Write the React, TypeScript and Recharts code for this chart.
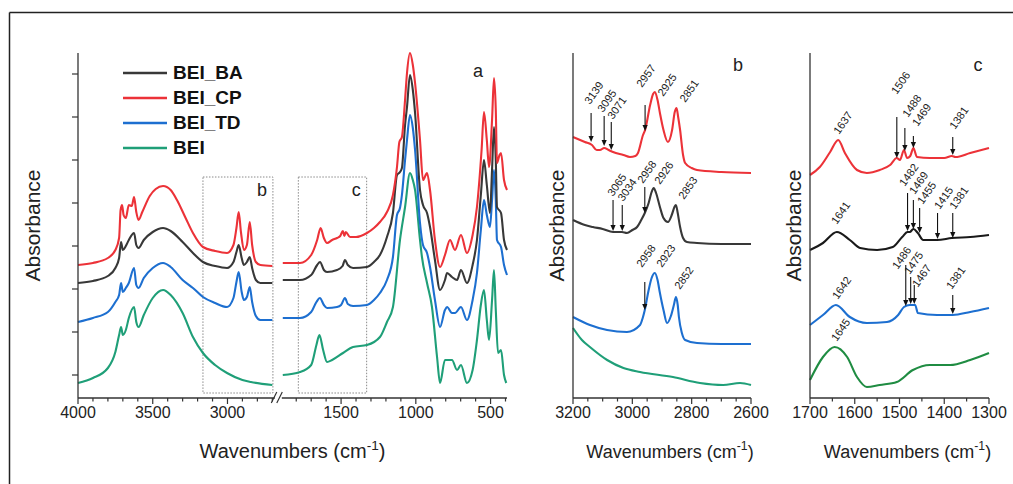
import React from 'react';
import { LineChart, Line, XAxis, YAxis, ReferenceLine, ReferenceDot, ReferenceArea, Legend } from 'recharts';

type Pt = [number, number];
type Note = { t: string; w?: number; top?: number; tip?: number; lw: number; lv: number };

const FONT = '"Liberation Sans", Arial, Helvetica, sans-serif';

const LEGEND_ORDER = ['BEI_BA', 'BEI_CP', 'BEI_TD', 'BEI'];
const COLOR: Record<string, string> = {
  BEI_BA: '#383838',
  BEI_CP: '#ec3238',
  BEI_TD: '#1d6fd0',
  BEI: '#1f9f78',
};
const GREEN_C = '#1f8c42';

// ---------- panel a : 4000-2700 cm-1 ----------
const A_CP_HI: Pt[] = [
  [4000, 1.33], [3900, 1.35], [3800, 1.4], [3750, 1.48], [3725, 1.6], [3715, 1.88], [3705, 1.93], [3695, 1.83],
  [3680, 1.8], [3660, 1.93], [3640, 1.92], [3625, 2.01], [3610, 1.86], [3595, 1.78], [3570, 1.86], [3520, 2.02],
  [3480, 2.09], [3431, 2.12], [3380, 2.08], [3338, 1.98], [3280, 1.8], [3231, 1.65], [3164, 1.51], [3083, 1.47],
  [3003, 1.45], [2960, 1.53], [2940, 1.7], [2925, 1.86], [2910, 1.66], [2890, 1.48], [2870, 1.53], [2851, 1.76],
  [2835, 1.53], [2810, 1.36], [2780, 1.33], [2700, 1.32],
];
const A_BA_HI: Pt[] = [
  [4000, 1.15], [3900, 1.17], [3800, 1.22], [3750, 1.3], [3725, 1.4], [3712, 1.56], [3700, 1.48], [3680, 1.52],
  [3660, 1.58], [3625, 1.65], [3610, 1.53], [3595, 1.5], [3560, 1.58], [3500, 1.66], [3431, 1.7], [3380, 1.67],
  [3300, 1.56], [3231, 1.45], [3164, 1.36], [3083, 1.32], [3003, 1.3], [2960, 1.36], [2940, 1.46], [2925, 1.53],
  [2905, 1.4], [2890, 1.33], [2870, 1.36], [2851, 1.41], [2835, 1.3], [2810, 1.18], [2780, 1.15], [2700, 1.15],
];
const A_TD_HI: Pt[] = [
  [4000, 0.76], [3900, 0.8], [3800, 0.86], [3750, 0.96], [3725, 1.03], [3712, 1.15], [3700, 1.06], [3680, 1.1],
  [3660, 1.15], [3625, 1.3], [3610, 1.13], [3595, 1.1], [3560, 1.2], [3500, 1.3], [3431, 1.35], [3380, 1.31],
  [3300, 1.18], [3231, 1.1], [3164, 1.01], [3083, 0.95], [3003, 0.91], [2960, 1.0], [2940, 1.16], [2925, 1.26],
  [2905, 1.06], [2890, 0.98], [2870, 1.01], [2851, 1.11], [2835, 0.96], [2810, 0.82], [2780, 0.78], [2700, 0.78],
];
const A_BEI_HI: Pt[] = [
  [4000, 0.15], [3900, 0.2], [3800, 0.3], [3750, 0.46], [3725, 0.63], [3712, 0.71], [3700, 0.63], [3680, 0.68],
  [3660, 0.8], [3625, 0.91], [3610, 0.76], [3595, 0.71], [3560, 0.83], [3500, 1.0], [3431, 1.08], [3380, 1.03],
  [3300, 0.85], [3231, 0.61], [3164, 0.45], [3083, 0.33], [3003, 0.25], [2900, 0.18], [2843, 0.16], [2700, 0.13],
];

// ---------- panel a : 1890-390 cm-1 ----------
const A_CP_LO: Pt[] = [
  [1890, 1.35], [1775, 1.35], [1700, 1.43], [1660, 1.58], [1637, 1.7], [1615, 1.6], [1594, 1.55], [1560, 1.58],
  [1527, 1.6], [1506, 1.62], [1488, 1.67], [1478, 1.62], [1469, 1.66], [1440, 1.61], [1400, 1.61], [1327, 1.65],
  [1280, 1.7], [1240, 1.76], [1193, 1.86], [1153, 2.03], [1126, 2.31], [1110, 2.56], [1093, 2.61], [1072, 2.98],
  [1059, 3.25], [1039, 3.45], [1020, 3.33], [1005, 3.15], [972, 2.58], [952, 2.18], [925, 2.25], [905, 2.08],
  [872, 1.58], [838, 1.31], [805, 1.43], [771, 1.58], [738, 1.48], [698, 1.63], [658, 1.45], [620, 1.63],
  [591, 1.91], [560, 2.48], [544, 2.86], [525, 2.58], [510, 2.31], [490, 2.78], [477, 3.2], [465, 2.88],
  [457, 2.35], [440, 2.43], [430, 2.45], [410, 2.18], [390, 2.08],
];
const A_BA_LO: Pt[] = [
  [1890, 1.18], [1775, 1.18], [1700, 1.23], [1660, 1.33], [1641, 1.36], [1615, 1.28], [1594, 1.26], [1527, 1.28],
  [1490, 1.32], [1474, 1.38], [1455, 1.33], [1420, 1.3], [1327, 1.31], [1280, 1.36], [1240, 1.43], [1193, 1.61],
  [1153, 1.85], [1126, 2.23], [1106, 2.26], [1093, 2.3], [1072, 2.73], [1059, 2.91], [1039, 3.23], [1020, 3.08],
  [1005, 2.85], [972, 2.08], [952, 1.93], [925, 1.85], [905, 1.71], [872, 1.38], [838, 1.08], [805, 1.18],
  [791, 1.25], [758, 1.21], [724, 1.18], [698, 1.28], [658, 1.15], [620, 1.33], [591, 1.58], [565, 2.03],
  [544, 2.38], [525, 2.13], [504, 1.85], [490, 2.28], [477, 2.71], [465, 2.38], [457, 1.91], [430, 1.85],
  [410, 1.58], [390, 1.48],
];
const A_TD_LO: Pt[] = [
  [1890, 0.8], [1775, 0.8], [1700, 0.86], [1665, 0.96], [1642, 1.0], [1615, 0.93], [1594, 0.9], [1527, 0.91],
  [1500, 0.93], [1474, 1.0], [1455, 0.94], [1420, 0.92], [1327, 0.93], [1280, 0.98], [1240, 1.05], [1193, 1.18],
  [1153, 1.41], [1126, 1.83], [1106, 1.9], [1093, 2.03], [1072, 2.38], [1059, 2.58], [1039, 2.83], [1020, 2.7],
  [1005, 2.48], [972, 1.75], [952, 1.53], [925, 1.45], [905, 1.31], [872, 0.98], [838, 0.71], [805, 0.88],
  [791, 0.91], [758, 0.85], [738, 0.85], [698, 0.91], [658, 0.78], [620, 0.98], [591, 1.25], [565, 1.68],
  [544, 1.98], [525, 1.83], [504, 1.71], [490, 1.98], [477, 2.28], [465, 1.98], [457, 1.58], [430, 1.51],
  [410, 1.33], [390, 1.23],
];
const A_BEI_LO: Pt[] = [
  [1890, 0.23], [1775, 0.26], [1700, 0.33], [1665, 0.53], [1645, 0.63], [1620, 0.48], [1594, 0.36], [1560, 0.38],
  [1487, 0.45], [1420, 0.51], [1327, 0.53], [1240, 0.61], [1193, 0.76], [1153, 0.91], [1106, 1.58], [1072, 1.91],
  [1039, 2.25], [1020, 2.18], [1005, 2.08], [972, 1.58], [959, 1.41], [925, 1.15], [892, 0.91], [858, 0.41],
  [838, 0.15], [805, 0.38], [758, 0.38], [724, 0.28], [698, 0.33], [658, 0.15], [620, 0.28], [591, 0.58],
  [565, 0.93], [544, 1.08], [525, 0.78], [510, 0.58], [490, 0.98], [477, 1.28], [465, 0.88], [450, 0.45],
  [430, 0.48], [410, 0.23], [395, 0.15],
];

// ---------- panel b : 3200-2600 cm-1 ----------
const B_CP: Pt[] = [
  [3200, 2.61], [3160, 2.56], [3136, 2.53], [3120, 2.48], [3109, 2.48], [3095, 2.5], [3080, 2.48], [3065, 2.46],
  [3030, 2.43], [3008, 2.41], [2990, 2.42], [2981, 2.45], [2964, 2.63], [2957, 2.68], [2940, 2.93], [2930, 3.04],
  [2924, 3.06], [2915, 2.98], [2907, 2.85], [2895, 2.68], [2880, 2.56], [2866, 2.68], [2857, 2.86], [2851, 2.9],
  [2845, 2.8], [2839, 2.68], [2829, 2.43], [2822, 2.35], [2800, 2.3], [2782, 2.28], [2700, 2.26], [2600, 2.25],
];
const B_BA: Pt[] = [
  [3200, 1.78], [3160, 1.73], [3133, 1.71], [3100, 1.69], [3065, 1.66], [3035, 1.66], [3018, 1.65], [3000, 1.68],
  [2984, 1.71], [2970, 1.78], [2958, 1.85], [2945, 1.95], [2935, 2.06], [2928, 2.1], [2920, 2.05], [2907, 1.91],
  [2895, 1.8], [2880, 1.76], [2866, 1.84], [2858, 1.91], [2853, 1.93], [2847, 1.85], [2839, 1.71], [2829, 1.6],
  [2816, 1.56], [2782, 1.55], [2700, 1.54], [2600, 1.54],
];
const B_TD: Pt[] = [
  [3200, 0.81], [3143, 0.73], [3085, 0.68], [3018, 0.66], [2974, 0.73], [2965, 0.8], [2958, 0.88], [2945, 1.08],
  [2935, 1.2], [2924, 1.25], [2915, 1.18], [2907, 1.05], [2895, 0.88], [2883, 0.75], [2870, 0.82], [2860, 0.93],
  [2853, 1.01], [2847, 0.93], [2843, 0.81], [2833, 0.65], [2822, 0.58], [2782, 0.55], [2700, 0.54], [2600, 0.54],
];
const B_BEI: Pt[] = [
  [3200, 0.7], [3170, 0.58], [3143, 0.51], [3085, 0.38], [3030, 0.3], [2974, 0.26], [2863, 0.21], [2772, 0.15],
  [2694, 0.13], [2637, 0.15], [2600, 0.13],
];

// ---------- panel c : 1700-1300 cm-1 ----------
const C_CP: Pt[] = [
  [1700, 2.23], [1678, 2.31], [1655, 2.46], [1637, 2.58], [1622, 2.45], [1595, 2.28], [1573, 2.25], [1544, 2.28],
  [1521, 2.33], [1506, 2.4], [1499, 2.38], [1490, 2.48], [1483, 2.4], [1476, 2.42], [1469, 2.5], [1461, 2.41],
  [1432, 2.4], [1400, 2.4], [1383, 2.42], [1375, 2.41], [1342, 2.45], [1300, 2.5],
];
const C_BA: Pt[] = [
  [1700, 1.48], [1671, 1.55], [1640, 1.66], [1611, 1.58], [1588, 1.5], [1550, 1.48], [1515, 1.51], [1494, 1.61],
  [1482, 1.66], [1477, 1.66], [1469, 1.69], [1459, 1.65], [1447, 1.58], [1416, 1.58], [1383, 1.6], [1342, 1.61],
  [1300, 1.63],
];
const C_TD: Pt[] = [
  [1700, 0.73], [1671, 0.83], [1642, 0.93], [1611, 0.81], [1573, 0.75], [1528, 0.76], [1503, 0.83], [1490, 0.91],
  [1477, 0.93], [1465, 0.93], [1459, 0.85], [1416, 0.83], [1381, 0.83], [1342, 0.86], [1300, 0.9],
];
const C_BEI: Pt[] = [
  [1700, 0.18], [1671, 0.41], [1645, 0.51], [1617, 0.41], [1595, 0.21], [1573, 0.11], [1544, 0.13], [1506, 0.16],
  [1470, 0.28], [1432, 0.33], [1387, 0.33], [1342, 0.38], [1300, 0.45],
];

// ---------- peak annotations ----------
const B_NOTES: Note[] = [
  { t: '3139', w: 3139, top: 2.85, tip: 2.56, lw: 3143, lv: 2.93 },
  { t: '3095', w: 3095, top: 2.82, tip: 2.52, lw: 3099, lv: 2.85 },
  { t: '3071', w: 3071, top: 2.76, tip: 2.48, lw: 3065, lv: 2.78 },
  { t: '2957', w: 2957, top: 2.93, tip: 2.67, lw: 2967, lv: 3.1 },
  { t: '2925', lw: 2896, lv: 3.01 },
  { t: '2851', lw: 2822, lv: 2.95 },
  { t: '3065', w: 3065, top: 1.98, tip: 1.67, lw: 3065, lv: 2.01 },
  { t: '3034', w: 3034, top: 1.93, tip: 1.67, lw: 3031, lv: 1.96 },
  { t: '2958', w: 2958, top: 2.11, tip: 1.85, lw: 2964, lv: 2.14 },
  { t: '2926', lw: 2907, lv: 2.13 },
  { t: '2853', lw: 2826, lv: 1.98 },
  { t: '2958', w: 2958, top: 1.16, tip: 0.88, lw: 2967, lv: 1.3 },
  { t: '2923', lw: 2900, lv: 1.3 },
  { t: '2852', lw: 2839, lv: 1.08 },
];
const C_NOTES: Note[] = [
  { t: '1637', lw: 1635, lv: 2.63 },
  { t: '1506', w: 1506, top: 2.81, tip: 2.4, lw: 1506, lv: 3.03 },
  { t: '1488', w: 1488, top: 2.7, tip: 2.47, lw: 1481, lv: 2.8 },
  { t: '1469', w: 1469, top: 2.62, tip: 2.5, lw: 1459, lv: 2.71 },
  { t: '1381', w: 1381, top: 2.61, tip: 2.43, lw: 1376, lv: 2.68 },
  { t: '1641', lw: 1640, lv: 1.73 },
  { t: '1482', w: 1482, top: 2.05, tip: 1.67, lw: 1488, lv: 2.11 },
  { t: '1469', w: 1469, top: 1.98, tip: 1.69, lw: 1466, lv: 2.03 },
  { t: '1455', w: 1455, top: 1.9, tip: 1.65, lw: 1448, lv: 1.93 },
  { t: '1415', w: 1415, top: 1.85, tip: 1.59, lw: 1410, lv: 1.88 },
  { t: '1381', w: 1381, top: 1.85, tip: 1.6, lw: 1376, lv: 1.88 },
  { t: '1642', lw: 1638, lv: 0.98 },
  { t: '1486', w: 1486, top: 1.33, tip: 0.92, lw: 1504, lv: 1.28 },
  { t: '1475', w: 1475, top: 1.21, tip: 0.94, lw: 1477, lv: 1.23 },
  { t: '1467', w: 1467, top: 1.13, tip: 0.94, lw: 1459, lv: 1.1 },
  { t: '1381', w: 1381, top: 1.03, tip: 0.84, lw: 1383, lv: 1.08 },
  { t: '1645', lw: 1640, lv: 0.56 },
];

// ---------- ticks ----------
const A_TICKS_W = [4000, 3900, 3800, 3700, 3600, 3500, 3400, 3300, 3200, 3100, 3000, 2900, 2800, 2700,
  1800, 1700, 1600, 1500, 1400, 1300, 1200, 1100, 1000, 900, 800, 700, 600, 500, 400];
const A_LABELS = [4000, 3500, 3000, 1500, 1000, 500];
const A_YTICKS = [0.23, 0.66, 1.09, 1.52, 1.95, 2.38, 2.81, 3.24];
const B_TICKS = [3200, 3150, 3100, 3050, 3000, 2950, 2900, 2850, 2800, 2750, 2700, 2650, 2600];
const B_LABELS = [3200, 3000, 2800, 2600];
const C_TICKS = [1700, 1650, 1600, 1550, 1500, 1450, 1400, 1350, 1300];
const C_LABELS = [1700, 1600, 1500, 1400, 1300];

// boxes in panel a (wavenumber range, absorbance range)
const BOX_B = { w1: 3164, w2: 2696, v1: 0.05, v2: 2.21 };
const BOX_C = { w1: 1786, w2: 1329, v1: 0.05, v2: 2.21 };

const Y_MAX = 3.45;

// broken axis transform for panel a
const BREAK_U = 1340;
const A_U_MAX = 2870;
const toU = (w: number) => (w >= 2000 ? 4000 - w : 3260 - w);
const buildA = (hi: Pt[], lo: Pt[]) => [
  ...hi.map(([w, v]) => ({ u: toU(w), v })),
  { u: BREAK_U, v: null as number | null },
  ...lo.map(([w, v]) => ({ u: toU(w), v })),
];
const toRows = (pts: Pt[]) => pts.map(([w, v]) => ({ w, v }));

const A_SERIES = [
  { name: 'BEI', data: buildA(A_BEI_HI, A_BEI_LO) },
  { name: 'BEI_TD', data: buildA(A_TD_HI, A_TD_LO) },
  { name: 'BEI_BA', data: buildA(A_BA_HI, A_BA_LO) },
  { name: 'BEI_CP', data: buildA(A_CP_HI, A_CP_LO) },
];
const B_SERIES = [
  { name: 'BEI', data: toRows(B_BEI) },
  { name: 'BEI_TD', data: toRows(B_TD) },
  { name: 'BEI_BA', data: toRows(B_BA) },
  { name: 'BEI_CP', data: toRows(B_CP) },
];
const C_SERIES = [
  { name: 'BEI', data: toRows(C_BEI) },
  { name: 'BEI_TD', data: toRows(C_TD) },
  { name: 'BEI_BA', data: toRows(C_BA) },
  { name: 'BEI_CP', data: toRows(C_CP) },
];

const AXIS = '#333';
const A_LABEL_BY_U = new Map(A_LABELS.map((w) => [toU(w), String(w)]));

function drawTick(x: number, y: number, label?: string) {
  return (
    <g>
      <line x1={x} y1={y} x2={x} y2={y + (label ? 6 : 3.5)} stroke={AXIS} strokeWidth={1.2} />
      {label ? (
        <text x={x} y={y + 20} textAnchor="middle" fontSize={16} fill="#222" fontFamily={FONT}>
          {label}
        </text>
      ) : null}
    </g>
  );
}
const tickA = (p: any) => drawTick(p.x, p.y, A_LABEL_BY_U.get(p.payload.value));
const tickFor = (labels: number[]) => (p: any) =>
  drawTick(p.x, p.y, labels.includes(p.payload.value) ? String(p.payload.value) : undefined);

const xTitle = (dx: number, fs: number) => (p: any) => {
  const vb = p.viewBox;
  const cx = vb.x + vb.width / 2 + dx;
  return (
    <text x={cx} y={vb.y + 60} textAnchor="middle" fontSize={fs} fill="#222" fontFamily={FONT}>
      Wavenumbers (cm
      <tspan dy={-fs * 0.42} fontSize={fs * 0.68}>-1</tspan>
      <tspan dy={fs * 0.42}>)</tspan>
    </text>
  );
};
const yTitle = (dx: number) => (p: any) => {
  const vb = p.viewBox;
  const cx = vb.x + dx;
  const cy = vb.y + vb.height / 2;
  return (
    <text x={cx} y={cy} transform={`rotate(-90 ${cx} ${cy})`} textAnchor="middle" dominantBaseline="central"
      fontSize={21} fill="#222" fontFamily={FONT}>
      Absorbance
    </text>
  );
};

const Arrow = (p: any) => {
  const x = p.x1;
  const yTop = Math.min(p.y1, p.y2);
  const yTip = Math.max(p.y1, p.y2);
  const h = Math.min(6, (yTip - yTop) * 0.7);
  return (
    <g>
      <line x1={x} y1={yTop} x2={x} y2={yTip - h + 1} stroke="#111" strokeWidth={1.1} />
      <path d={`M${x - 2.6},${yTip - h} L${x + 2.6},${yTip - h} L${x},${yTip} Z`} fill="#111" />
    </g>
  );
};
const rotLabel = (t: string) => (p: any) => (
  <text x={p.cx} y={p.cy} transform={`rotate(-55 ${p.cx} ${p.cy})`} fontSize={11} fill="#222" fontFamily={FONT}>
    {t}
  </text>
);
const BreakMark = (p: any) => {
  const { cx, cy } = p;
  return (
    <g>
      <rect x={cx - 3.5} y={cy - 2} width={7} height={4} fill="#fff" />
      <line x1={cx - 7} y1={cy + 5} x2={cx - 1.5} y2={cy - 6} stroke={AXIS} strokeWidth={1.2} />
      <line x1={cx - 1.5} y1={cy + 5} x2={cx + 4} y2={cy - 6} stroke={AXIS} strokeWidth={1.2} />
    </g>
  );
};

const renderNotes = (notes: Note[], prefix: string) =>
  notes.flatMap((n, i) => {
    const out: React.ReactElement[] = [];
    if (n.w !== undefined && n.top !== undefined && n.tip !== undefined) {
      out.push(
        <ReferenceLine key={`${prefix}l${i}`} segment={[{ x: n.w, y: n.top }, { x: n.w, y: n.tip }]}
          shape={Arrow} ifOverflow="visible" />
      );
    }
    out.push(
      <ReferenceDot key={`${prefix}d${i}`} x={n.lw} y={n.lv} r={0} shape={rotLabel(n.t)} ifOverflow="visible" />
    );
    return out;
  });

const LegendBox = () => (
  <div style={{ fontFamily: FONT }}>
    {LEGEND_ORDER.map((name) => (
      <div key={name} style={{ display: 'flex', alignItems: 'center', height: 25 }}>
        <svg width={44} height={4} style={{ display: 'block' }}>
          <line x1={0} y1={2} x2={44} y2={2} stroke={COLOR[name]} strokeWidth={2.4} />
        </svg>
        <span style={{ marginLeft: 6, fontWeight: 700, fontSize: 19, color: '#111', lineHeight: '20px' }}>{name}</span>
      </div>
    ))}
  </div>
);

const frameAxes = (domain: [number, number], reversed: boolean) => [
  <XAxis key="tx" xAxisId="top" orientation="top" type="number" domain={domain} reversed={reversed} height={0}
    tick={false} tickLine={false} axisLine={{ stroke: AXIS, strokeWidth: 1.3 }} />,
  <YAxis key="ry" yAxisId="right" orientation="right" type="number" domain={[0, 1]} width={0}
    tick={false} tickLine={false} axisLine={{ stroke: AXIS, strokeWidth: 1.3 }} />,
];

export default function App() {
  return (
    <div style={{ position: 'absolute', left: 0, top: 0, width: 1013, height: 484, background: '#fff', overflow: 'hidden', fontFamily: FONT }}>
      <svg width={1013} height={484} style={{ position: 'absolute', left: 0, top: 0 }}>
        <line x1={9.5} y1={12.5} x2={9.5} y2={484} stroke="#222" strokeWidth={1.5} />
        <line x1={9.5} y1={12.5} x2={1013} y2={12.5} stroke="#222" strokeWidth={1.5} />
        <text x={478} y={77} textAnchor="middle" fontSize={18} fill="#222" fontFamily={FONT}>a</text>
        <text x={738} y={71} textAnchor="middle" fontSize={18} fill="#222" fontFamily={FONT}>b</text>
        <text x={978} y={71} textAnchor="middle" fontSize={18} fill="#222" fontFamily={FONT}>c</text>
      </svg>

      {/* panel a */}
      <div style={{ position: 'absolute', left: 0, top: 0 }}>
        <LineChart width={520} height={484} margin={{ top: 53, right: 13, bottom: 16, left: 18 }}>
          <XAxis type="number" dataKey="u" domain={[0, A_U_MAX]} ticks={A_TICKS_W.map(toU)} interval={0}
            tickSize={0} tickMargin={0} tick={tickA} tickLine={false} height={70}
            axisLine={{ stroke: AXIS, strokeWidth: 1.3 }} label={{ content: xTitle(0, 20) }} />
          <YAxis type="number" domain={[0, Y_MAX]} ticks={A_YTICKS} width={60} tickSize={6}
            tick={() => <g />} tickLine={{ stroke: AXIS, strokeWidth: 1.2 }}
            axisLine={{ stroke: AXIS, strokeWidth: 1.3 }} label={{ content: yTitle(14) }} />
          {frameAxes([0, A_U_MAX], false)}
          <ReferenceArea x1={toU(BOX_B.w1)} x2={toU(BOX_B.w2)} y1={BOX_B.v1} y2={BOX_B.v2} fill="none"
            stroke="#8a8a8a" strokeWidth={1} strokeDasharray="1.5 1.5"
            label={{ value: 'b', position: 'insideTopRight', offset: 6, fontSize: 18, fill: '#222', fontFamily: FONT }} />
          <ReferenceArea x1={toU(BOX_C.w1)} x2={toU(BOX_C.w2)} y1={BOX_C.v1} y2={BOX_C.v2} fill="none"
            stroke="#8a8a8a" strokeWidth={1} strokeDasharray="1.5 1.5"
            label={{ value: 'c', position: 'insideTopRight', offset: 6, fontSize: 18, fill: '#222', fontFamily: FONT }} />
          {A_SERIES.map((s) => (
            <Line key={s.name} name={s.name} data={s.data} dataKey="v" type="monotone" stroke={COLOR[s.name]}
              strokeWidth={2.1} dot={false} activeDot={false} connectNulls={false} isAnimationActive={false} />
          ))}
          <ReferenceDot x={BREAK_U} y={0} r={0} shape={BreakMark} ifOverflow="visible" />
          <Legend layout="vertical" align="center" verticalAlign="middle" content={LegendBox}
            wrapperStyle={{ left: 123, top: 60, width: 160, height: 100 }} />
        </LineChart>
      </div>

      {/* panel b */}
      <div style={{ position: 'absolute', left: 530, top: 0 }}>
        <LineChart width={240} height={484} margin={{ top: 53, right: 19, bottom: 16, left: 0 }}>
          <XAxis type="number" dataKey="w" domain={[2600, 3200]} reversed ticks={B_TICKS} interval={0}
            tickSize={0} tickMargin={0} tick={tickFor(B_LABELS)} tickLine={false} height={70}
            axisLine={{ stroke: AXIS, strokeWidth: 1.3 }} label={{ content: xTitle(8, 18) }} />
          <YAxis type="number" domain={[0, Y_MAX]} width={43} tick={false} tickLine={false}
            axisLine={{ stroke: AXIS, strokeWidth: 1.3 }} label={{ content: yTitle(26) }} />
          {frameAxes([2600, 3200], true)}
          {B_SERIES.map((s) => (
            <Line key={s.name} name={s.name} data={s.data} dataKey="v" type="monotone" stroke={COLOR[s.name]}
              strokeWidth={2.1} dot={false} activeDot={false} isAnimationActive={false} />
          ))}
          {renderNotes(B_NOTES, 'b')}
        </LineChart>
      </div>

      {/* panel c */}
      <div style={{ position: 'absolute', left: 775, top: 0 }}>
        <LineChart width={238} height={484} margin={{ top: 53, right: 24, bottom: 16, left: 0 }}>
          <XAxis type="number" dataKey="w" domain={[1300, 1700]} reversed ticks={C_TICKS} interval={0}
            tickSize={0} tickMargin={0} tick={tickFor(C_LABELS)} tickLine={false} height={70}
            axisLine={{ stroke: AXIS, strokeWidth: 1.3 }} label={{ content: xTitle(8, 18) }} />
          <YAxis type="number" domain={[0, Y_MAX]} width={35} tick={false} tickLine={false}
            axisLine={{ stroke: AXIS, strokeWidth: 1.3 }} label={{ content: yTitle(18) }} />
          {frameAxes([1300, 1700], true)}
          {C_SERIES.map((s) => (
            <Line key={s.name} name={s.name} data={s.data} dataKey="v" type="monotone"
              stroke={s.name === 'BEI' ? GREEN_C : s.name === 'BEI_BA' ? '#1a1a1a' : COLOR[s.name]}
              strokeWidth={2.1} dot={false} activeDot={false} isAnimationActive={false} />
          ))}
          {renderNotes(C_NOTES, 'c')}
        </LineChart>
      </div>
    </div>
  );
}
